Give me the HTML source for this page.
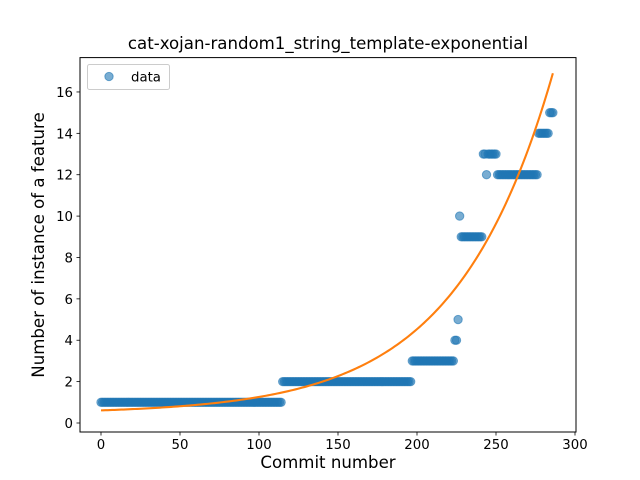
<!DOCTYPE html>
<html><head><meta charset="utf-8"><style>
html,body{margin:0;padding:0;background:#fff}
svg{display:block;font-family:"DejaVu Sans","Liberation Sans",sans-serif}
</style></head><body>
<svg id="chart" width="640" height="480" xmlns="http://www.w3.org/2000/svg">
<rect x="0" y="0" width="640" height="480" fill="#fff"/>
<text x="328" y="49" font-size="16.6" text-anchor="middle">cat-xojan-random1_string_template-exponential</text>
<g id="pts"></g>
<g id="fit"></g>
<rect x="80" y="57.6" width="496" height="374.4" fill="none" stroke="#000" stroke-width="1"/>
<g id="xt"></g><g id="yt"></g>
<text x="328" y="468" font-size="16.6" text-anchor="middle">Commit number</text>
<text x="0" y="0" font-size="16.6" text-anchor="middle" transform="translate(44,245) rotate(-90)">Number of instance of a feature</text>
<g>
<rect x="87.5" y="64.5" width="82" height="25" rx="2" fill="#fff" fill-opacity="0.8" stroke="#ccc"/>
<circle cx="109" cy="76.5" r="4.17" fill="#1f77b4" fill-opacity="0.6" stroke="#1f77b4" stroke-opacity="0.6"/>
<text x="131" y="81.5" font-size="13.3">data</text>
</g>
</svg>
<script>
// data runs: value and number of consecutive commits
const runValues = [1, 2, 3, 4, 5, 10, 9, 13, 12, 13, 12, 14, 15];
const runCounts = [115, 82, 27, 2, 1, 1, 14, 2, 1, 6, 26, 7, 3];
const xTicks = [0, 50, 100, 150, 200, 250, 300];
const yTicks = [0, 2, 4, 6, 8, 10, 12, 14, 16];
const fitA = 0.16, fitB = 0.0162, fitC = 0.45;

const NS = "http://www.w3.org/2000/svg";
const sx = v => 101 + v * 1.58;
const sy = v => 423 - v * 20.69;
function mk(tag, attrs, parent){const e=document.createElementNS(NS,tag);for(const k in attrs)e.setAttribute(k,attrs[k]);parent.appendChild(e);return e;}

const pts = document.getElementById('pts');
let xi = 0;
runValues.forEach((v, r) => {
  for (let i = 0; i < runCounts[r]; i++) {
    const c = mk('circle', {cx: sx(xi), cy: sy(v), r: 4.17, fill: '#1f77b4', 'fill-opacity': 0.6, stroke: '#1f77b4', 'stroke-opacity': 0.6}, pts);
    
    
    xi++;
  }
});
const n = xi - 1;
let d = '';
for (let i = 0; i <= 200; i++) {
  const x = n * i / 200;
  const y = fitA * Math.exp(fitB * x) + fitC;
  d += (i ? 'L' : 'M') + sx(x).toFixed(2) + ',' + sy(y).toFixed(2);
}
const fl = mk('path', {d: d, fill: 'none', stroke: '#ff7f0e', 'stroke-width': 2.1}, document.getElementById('fit'));



const xt = document.getElementById('xt');
xTicks.forEach(t => {
  const l = mk('line', {x1: sx(t), x2: sx(t), y1: 432, y2: 435.5, stroke: '#000', 'stroke-width': 0.8}, xt);
  
  
  const tx = mk('text', {x: sx(t), y: 449, 'font-size': 13.3, 'text-anchor': 'middle'}, xt);
  tx.textContent = t;
  
  
});
const yt = document.getElementById('yt');
yTicks.forEach(t => {
  const l = mk('line', {x1: 76.5, x2: 80, y1: sy(t), y2: sy(t), stroke: '#000', 'stroke-width': 0.8}, yt);
  
  
  const tx = mk('text', {x: 73, y: sy(t) + 5, 'font-size': 13.3, 'text-anchor': 'end'}, yt);
  tx.textContent = t;
  
  
});
</script>
</body></html>
